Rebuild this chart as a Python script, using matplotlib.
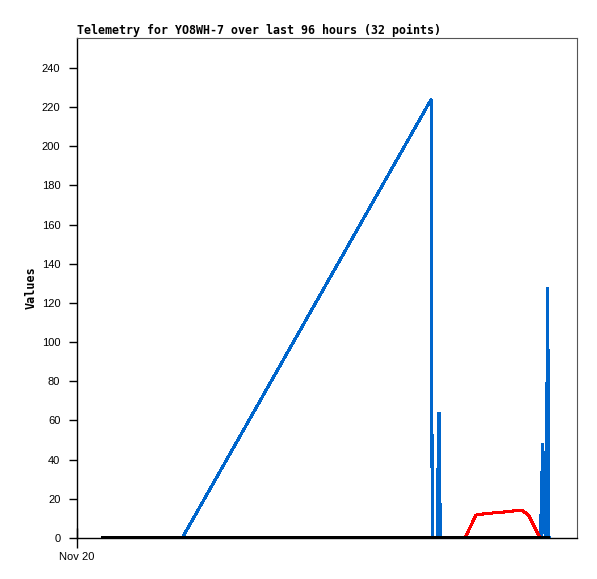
import matplotlib
matplotlib.use("Agg")
import matplotlib.pyplot as plt

# Hours since Nov 20 00:00 (axis spans 96 hours)
blue_t = [5.0, 20.2, 68.0, 68.2, 69.2, 69.3, 69.5, 69.6, 69.8,
          88.9, 89.0, 89.1, 89.3, 89.4, 89.6, 89.7, 89.9, 90.1, 90.3, 90.4, 90.5, 90.7]
blue_v = [0, 0, 224, 0, 0, 32, 64, 32, 0,
          0, 12, 0, 36, 48, 36, 12, 0, 32, 96, 128, 0, 0]

red_t = [5.0, 74.5, 76.6, 78.0, 80.3, 82.5, 84.7, 85.6, 86.7, 87.8, 88.9]
red_v = [0, 0, 11.7, 12.3, 12.9, 13.4, 14.1, 13.8, 11.7, 6.0, 0]

black_t = [5.0, 90.2]
black_v = [0, 0]

title = "Telemetry for YO8WH-7 over last 96 hours (32 points)"

fig = plt.figure(figsize=(5.97, 5.79), dpi=100)
ax = fig.add_axes([77 / 597, 41 / 579, 500 / 597, 500 / 579])

line_kw = dict(linewidth=1.5, antialiased=False, solid_joinstyle="bevel")
ax.plot(blue_t, blue_v, color="#0066cc", zorder=2, **line_kw)
ax.plot(red_t, red_v, color="#ff0000", zorder=3, **line_kw)
ax.plot(black_t, black_v, color="#000000", linewidth=2.2, antialiased=False, zorder=4)

ax.set_xlim(0, 96)
ax.set_ylim(0, 255.3)
ax.set_yticks(range(0, 241, 20))
ax.set_xticks([0])
ax.set_xticklabels(["Nov 20"])

for s in ["top", "right"]:
    ax.spines[s].set_color("#555555")
    ax.spines[s].set_linewidth(0.8)
for s in ["left", "bottom"]:
    ax.spines[s].set_color("black")
    ax.spines[s].set_linewidth(1)

for lbl in ax.get_xticklabels() + ax.get_yticklabels():
    lbl.set_family("Liberation Sans")
ax.tick_params(axis="y", direction="out", length=6, width=1, labelsize=8, pad=6)
ax.tick_params(axis="x", direction="inout", length=14, width=1, labelsize=8, pad=3)

ax.set_ylabel("Values", family="DejaVu Sans Mono", fontweight="bold", fontsize=8.5, labelpad=3)
ax.set_title(title, loc="left", family="DejaVu Sans Mono", fontweight="bold", fontsize=8.4, pad=3)

fig.savefig("out.png", dpi=100)
